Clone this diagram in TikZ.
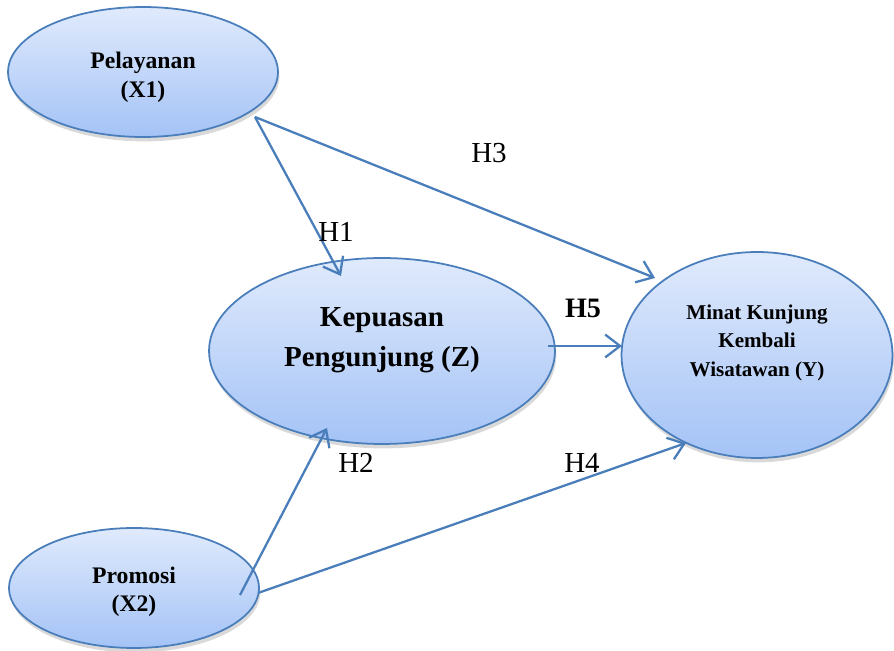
\documentclass[tikz,border=0pt]{standalone}
\usepackage{fontspec}
\setmainfont{Liberation Serif}
\usetikzlibrary{shapes.geometric,shadows,arrows.meta}
\definecolor{edgeblue}{RGB}{74,126,187}
\definecolor{filltop}{RGB}{224,234,252}
\definecolor{fillbot}{RGB}{164,195,246}

\begin{document}
\begin{tikzpicture}[x=0.02cm,y=-0.02cm,
  var/.style={ellipse,draw=edgeblue,line width=1pt,top color=filltop,bottom color=fillbot,
    inner sep=0pt,drop shadow={shadow xshift=0.8pt,shadow yshift=-2.5pt,opacity=0.3}},
  vtext/.style={align=center,font=\bfseries},
  link/.style={draw=edgeblue,line width=1.3pt,-{Straight Barb[length=8.5pt,width=13pt]}},
  hyp/.style={font=\fontsize{16.5}{19}\selectfont}]
\useasboundingbox (0,0) rectangle (894,651);

% variables
\node[var,minimum width=5.4cm,minimum height=2.6cm] (pel) at (143,72) {};
\node[var,minimum width=6.92cm,minimum height=3.72cm] (kep) at (382,351) {};
\node[var,minimum width=5.42cm,minimum height=4.12cm] (min) at (757,355) {};
\node[var,minimum width=5.0cm,minimum height=2.4cm] (pro) at (134,588) {};

\node[vtext,font=\bfseries\fontsize{13.5}{16}\selectfont] (pelt) at ([yshift=-3pt]pel.center) {Pelayanan\\(X1)};
\node[vtext,font=\bfseries\fontsize{16.5}{22.8}\selectfont] (kept) at ([yshift=6pt]kep.center) {Kepuasan\\Pengunjung (Z)};
\node[vtext,font=\bfseries\fontsize{12}{16.2}\selectfont] (mint) at ([yshift=7pt]min.center) {Minat Kunjung\\Kembali\\Wisatawan (Y)};
\node[vtext,font=\bfseries\fontsize{13.5}{16}\selectfont] (prot) at ([yshift=-2pt]pro.center) {Promosi\\(X2)};

% hypotheses
\draw[link] ([shift={(112,45)}]pel.center) -- ([shift={(-41,-75)}]kep.center);
\draw[link] ([shift={(112,45)}]pel.center) -- ([shift={(-102,-77)}]min.center);
\draw[link] ([shift={(166,-5)}]kep.center) -- ([shift={(-135,-9)}]min.center);
\draw[link] ([shift={(106,7)}]pro.center) -- ([shift={(-55,77)}]kep.center);
\draw[link] ([shift={(124,5)}]pro.center) -- ([shift={(-71,88)}]min.center);

\node[hyp] (h1) at (336,232) {H1};
\node[hyp] (h2) at (356,463) {H2};
\node[hyp] (h3) at (489,153) {H3};
\node[hyp] (h4) at (582,463) {H4};
\node[hyp,font=\bfseries\fontsize{16}{19}\selectfont] (h5) at (583,308) {H5};
\end{tikzpicture}
\end{document}
